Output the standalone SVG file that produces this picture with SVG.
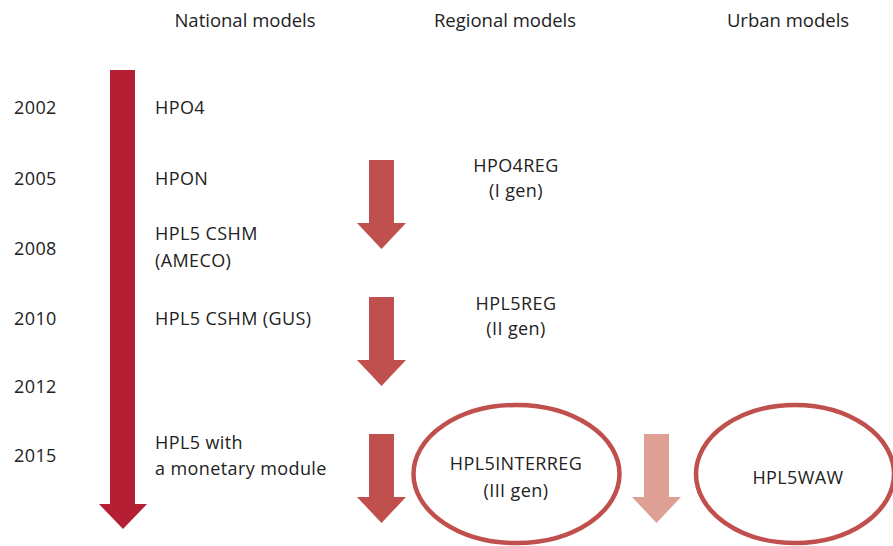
<svg xmlns="http://www.w3.org/2000/svg" width="893" height="546" viewBox="0 0 893 546">
  <style>
    .hdr { font-family: "Open Sans", "Liberation Sans", sans-serif; font-size: 18.5px; fill: #222; text-anchor: middle; }
    .t { font-family: "Open Sans", "Liberation Sans", sans-serif; font-size: 18px; letter-spacing: 0.4px; fill: #222; }
    .c { text-anchor: middle; }
    .ring { fill: none; stroke: #c0504d; stroke-width: 4.5; }
  </style>
  <defs>
    <!-- regional down arrow, origin at top-centre of shaft -->
    <path id="arrowReg" d="M-12.5,0 H12.5 V63 H24.5 L0,89 L-24.5,63 H-12.5 Z"/>
  </defs>
  <rect width="893" height="546" fill="#fff"/>

  <!-- column headers -->
  <g id="headers">
    <text class="hdr" x="245" y="27">National models</text>
    <text class="hdr" x="505" y="27">Regional models</text>
    <text class="hdr" x="788" y="27">Urban models</text>
  </g>

  <!-- years -->
  <g id="years" class="t">
    <text x="14" y="114">2002</text>
    <text x="14" y="185">2005</text>
    <text x="14" y="255">2008</text>
    <text x="14" y="325">2010</text>
    <text x="14" y="393">2012</text>
    <text x="14" y="462">2015</text>
  </g>

  <!-- timeline and flow arrows -->
  <g id="connectors">
    <path d="M110,70 H135 V504 H147 L123,529 L99,504 H110 Z" fill="#b41f33"/>
    <use href="#arrowReg" x="381.5" y="160" fill="#c0504d"/>
    <use href="#arrowReg" x="381.5" y="297" fill="#c0504d"/>
    <use href="#arrowReg" x="381.5" y="434" fill="#c0504d"/>
    <use href="#arrowReg" x="656.5" y="434" fill="#dea095"/>
  </g>

  <!-- national models -->
  <g id="n-hpo4"><text class="t" x="155" y="114">HPO4</text></g>
  <g id="n-hpon"><text class="t" x="155" y="185">HPON</text></g>
  <g id="n-ameco">
    <text class="t" x="155" y="240">HPL5 CSHM</text>
    <text class="t" x="155" y="267">(AMECO)</text>
  </g>
  <g id="n-gus"><text class="t" x="155" y="325">HPL5 CSHM (GUS)</text></g>
  <g id="n-monetary">
    <text class="t" x="155" y="449">HPL5 with</text>
    <text class="t" x="155" y="475">a monetary module</text>
  </g>

  <!-- regional models -->
  <g id="r-hpo4reg">
    <text class="t c" x="516" y="172">HPO4REG</text>
    <text class="t c" x="516" y="197">(I gen)</text>
  </g>
  <g id="r-hpl5reg">
    <text class="t c" x="516" y="310">HPL5REG</text>
    <text class="t c" x="516" y="335">(II gen)</text>
  </g>
  <g id="r-interreg">
    <ellipse class="ring" cx="516.5" cy="474" rx="103" ry="69"/>
    <text class="t c" x="516" y="470">HPL5INTERREG</text>
    <text class="t c" x="516" y="497">(III gen)</text>
  </g>

  <!-- urban models -->
  <g id="u-waw">
    <ellipse class="ring" cx="795" cy="474" rx="99" ry="69"/>
    <text class="t c" x="798" y="484">HPL5WAW</text>
  </g>
</svg>
